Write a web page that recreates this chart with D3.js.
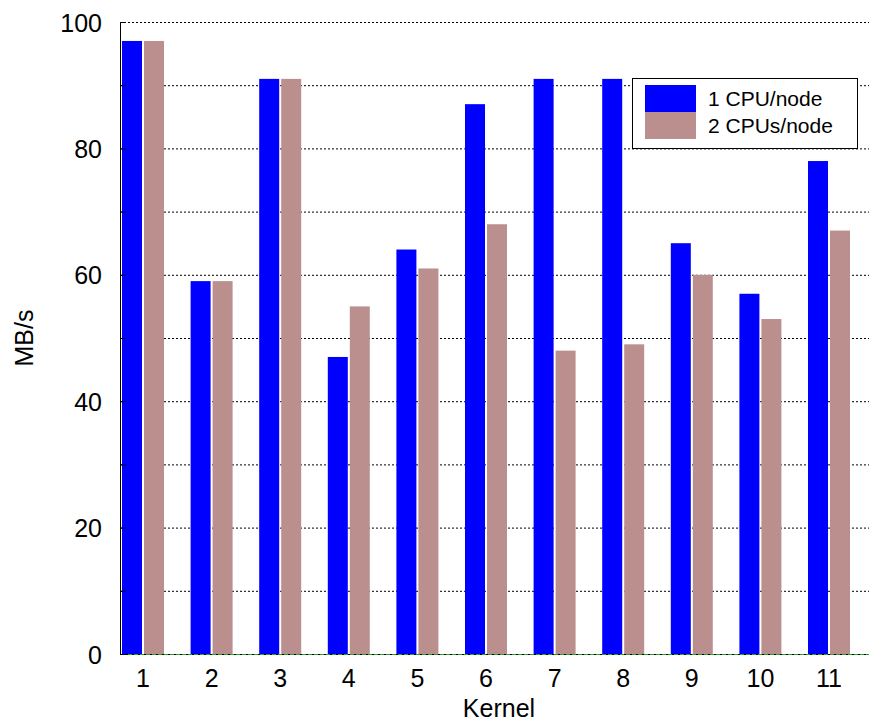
<!DOCTYPE html>
<html>
<head>
<meta charset="utf-8">
<script src="https://cdn.jsdelivr.net/npm/d3@7.9.0/dist/d3.min.js"></script>
<style>
  body { margin: 0; background: #fff; }
  svg { font-family: "Liberation Sans", Arial, sans-serif; }
</style>
</head>
<body>
<svg id="chart" width="869" height="722"></svg>
<script>
const kernels = [1, 2, 3, 4, 5, 6, 7, 8, 9, 10, 11];
const oneCpu = [97, 59, 91, 47, 64, 87, 91, 91, 65, 57, 78];
const twoCpu = [97, 59, 91, 55, 61, 68, 48, 49, 60, 53, 67];
const seriesNames = ['1 CPU/node', '2 CPUs/node'];
const seriesColors = ['#0000ff', '#bc8f8f'];
const yTicks = [0, 20, 40, 60, 80, 100];

const svg = d3.select('#chart');
const plotL = 120, plotR = 869, plotT = 22, plotB = 654;

const x = d3.scalePoint().domain(kernels).range([143, 829]);
const y = d3.scaleLinear().domain([0, 100]).range([plotB, plotT]);
const barW = 20, gap = 2;

// dashed grid every 10
const grid = svg.append('g');
d3.range(10, 101, 10).forEach(v => {
  grid.append('line')
    .attr('x1', plotL).attr('x2', plotR)
    .attr('y1', y(v) + 0.5).attr('y2', y(v) + 0.5)
    .attr('stroke', '#000').attr('stroke-width', 1)
    .attr('stroke-dasharray', '2,2');
});

// baseline
svg.append('line')
  .attr('x1', plotL).attr('x2', plotR)
  .attr('y1', plotB + 0.5).attr('y2', plotB + 0.5)
  .attr('stroke', '#2ca02c').attr('stroke-width', 1);
svg.append('line')
  .attr('x1', plotL).attr('x2', plotR)
  .attr('y1', plotB + 0.5).attr('y2', plotB + 0.5)
  .attr('stroke', '#000').attr('stroke-width', 1)
  .attr('stroke-dasharray', '2,4');

// bars
[oneCpu, twoCpu].forEach((vals, s) => {
  svg.append('g').selectAll('rect')
    .data(vals)
    .join('rect')
    .attr('x', (d, i) => x(kernels[i]) - barW - gap / 2 + s * (barW + gap))
    .attr('y', d => y(d))
    .attr('width', barW)
    .attr('height', d => y(0) - y(d))
    .attr('fill', seriesColors[s]);
});

// left axis
svg.append('line')
  .attr('x1', plotL + 0.5).attr('x2', plotL + 0.5)
  .attr('y1', plotT).attr('y2', plotB + 1)
  .attr('stroke', '#000');

d3.range(0, 101, 10).forEach(v => {
  svg.append('line')
    .attr('x1', plotL).attr('x2', plotL + 6)
    .attr('y1', y(v) + 0.5).attr('y2', y(v) + 0.5)
    .attr('stroke', '#000');
});

svg.append('g').selectAll('text')
  .data(yTicks)
  .join('text')
  .attr('x', 102)
  .attr('y', d => y(d) + 9.5)
  .attr('text-anchor', 'end')
  .attr('font-size', 25)
  .text(d => d);

svg.append('g').selectAll('text')
  .data(kernels)
  .join('text')
  .attr('x', d => x(d))
  .attr('y', 687)
  .attr('text-anchor', 'middle')
  .attr('font-size', 25)
  .text(d => d);

svg.append('text')
  .attr('x', 499).attr('y', 717)
  .attr('text-anchor', 'middle')
  .attr('font-size', 25)
  .text('Kernel');

svg.append('text')
  .attr('transform', 'translate(33,338) rotate(-90)')
  .attr('text-anchor', 'middle')
  .attr('font-size', 25)
  .text('MB/s');

// legend
const lg = svg.append('g');
lg.append('rect')
  .attr('x', 632.5).attr('y', 78.5).attr('width', 225).attr('height', 70)
  .attr('fill', '#fff').attr('stroke', '#000');
seriesNames.forEach((name, i) => {
  lg.append('rect')
    .attr('x', 645).attr('y', 85 + i * 27)
    .attr('width', 51).attr('height', 27)
    .attr('fill', seriesColors[i]);
  lg.append('text')
    .attr('x', 708).attr('y', 106 + i * 27)
    .attr('font-size', 21)
    .text(name);
});
</script>
</body>
</html>
